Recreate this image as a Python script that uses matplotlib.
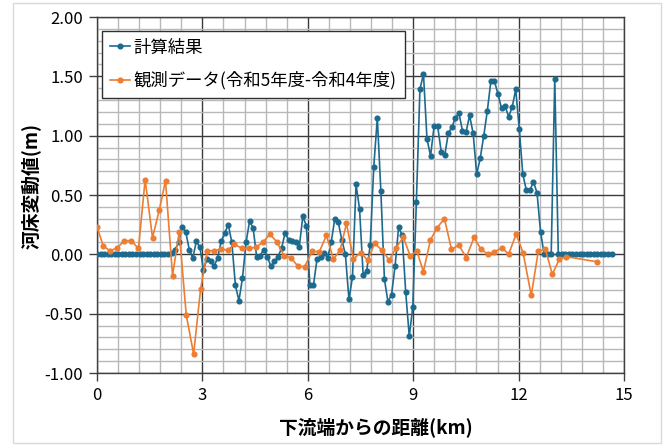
import numpy as np
import matplotlib
matplotlib.use("Agg")
import matplotlib.pyplot as plt
from matplotlib.ticker import MultipleLocator, FormatStrFormatter, FixedLocator
from matplotlib.patches import Rectangle

plt.rcParams['font.family'] = ['Noto Sans CJK JP', 'DejaVu Sans']

# ---- data ----
calc_label = "計算結果"
obs_label = "観測データ(令和5年度-令和4年度)"
x_label = "下流端からの距離(km)"
y_label = "河床変動値(m)"

# calculated bed change, one value per cross section (~0.1 km apart)
calc_change = [
    0.00, 0.00, 0.00, 0.00, 0.00, 0.00, 0.00, 0.00, 0.00, 0.00,
    0.00, 0.00, 0.00, 0.00, 0.00, 0.00, 0.00, 0.00, 0.00, 0.00,
    0.00, 0.01, 0.04, 0.10, 0.23, 0.19, 0.04, -0.03, 0.11, 0.06,
    -0.13, -0.04, -0.06, -0.10, -0.03, 0.11, 0.18, 0.25, 0.10, -0.26,
    -0.39, -0.20, 0.10, 0.28, 0.22, -0.02, -0.01, 0.04, -0.02, -0.10,
    -0.06, -0.02, 0.05, 0.18, 0.12, 0.11, 0.10, 0.06, 0.32, 0.24,
    -0.26, -0.26, -0.04, -0.02, 0.01, -0.03, 0.10, 0.30, 0.27, 0.12,
    0.00, -0.38, -0.19, 0.59, 0.38, -0.17, -0.14, 0.08, 0.74, 1.15,
    0.53, -0.21, -0.40, -0.34, -0.10, 0.23, 0.16, -0.32, -0.69, -0.44,
    0.44, 1.39, 1.52, 0.97, 0.83, 1.08, 1.08, 0.865, 0.835, 1.02,
    1.07, 1.15, 1.19, 1.04, 1.03, 1.17, 1.02, 0.675, 0.81, 1.00,
    1.21, 1.46, 1.46, 1.35, 1.23, 1.25, 1.16, 1.24, 1.39, 1.055,
    0.675, 0.54, 0.54, 0.61, 0.52, 0.19, 0.00, 0.00, 0.00, 1.48,
    0.00, 0.00, 0.00, 0.00, 0.00, 0.00, 0.00, 0.00, 0.00, 0.00,
    0.00, 0.00, 0.00, 0.00, 0.00, 0.00,
]
calc_step_km = 0.101
calc_dist = np.arange(len(calc_change)) * calc_step_km

obs_dist = [
    0.00, 0.18, 0.37, 0.58, 0.78, 0.97, 1.18, 1.37, 1.58, 1.77,
    1.95, 2.15, 2.34, 2.54, 2.75, 2.95, 3.14, 3.34, 3.53, 3.72,
    3.91, 4.13, 4.32, 4.52, 4.72, 4.92, 5.12, 5.32, 5.52, 5.72,
    5.91, 6.12, 6.33, 6.53, 6.73, 6.92, 7.10, 7.30, 7.50, 7.71,
    7.90, 8.11, 8.32, 8.51, 8.72, 8.92, 9.10, 9.29, 9.49, 9.68,
    9.89, 10.09, 10.30, 10.51, 10.73, 10.93, 11.12, 11.31, 11.52, 11.72,
    11.93, 12.13, 12.36, 12.56, 12.76, 12.96, 13.16, 13.36, 14.22,
]
obs_change = [
    0.23, 0.07, 0.03, 0.055, 0.115, 0.115, 0.05, 0.63, 0.14, 0.37,
    0.62, -0.18, 0.19, -0.51, -0.84, -0.29, 0.03, 0.03, 0.045, 0.035,
    0.085, 0.05, 0.05, 0.06, 0.10, 0.17, 0.105, -0.01, -0.03, -0.10,
    -0.105, 0.025, 0.022, 0.16, -0.04, 0.035, 0.26, -0.04, 0.015, -0.05,
    0.093, 0.035, -0.05, 0.056, 0.143, -0.017, 0.031, -0.146, 0.12, 0.225,
    0.30, 0.042, 0.078, -0.028, 0.142, 0.042, 0.003, 0.022, 0.053, 0.003,
    0.171, 0.01, -0.346, 0.025, 0.045, -0.169, -0.04, -0.02, -0.062,
]

x_ticks = [0, 3, 6, 9, 12, 15]
y_ticks = [-1.0, -0.5, 0.0, 0.5, 1.0, 1.5, 2.0]

# ---- figure ----
fig = plt.figure(figsize=(6.65, 4.46), dpi=100)
fig.patch.set_facecolor('white')
fig.add_artist(Rectangle((13 / 665, 3 / 446), 648 / 665, 440 / 446,
                         transform=fig.transFigure, fill=False,
                         edgecolor='#d9d9d9', linewidth=1.0))

ax = fig.add_axes([97 / 665, 1 - 373 / 446, 527 / 665, 356 / 446])

blue = '#1D6A8F'
orange = '#ED7D31'

ax.plot(calc_dist, calc_change, color=blue, linewidth=1.2, marker='o',
        markersize=3.4, label=calc_label, zorder=3)
ax.plot(obs_dist, obs_change, color=orange, linewidth=1.2, marker='o',
        markersize=3.4, label=obs_label, zorder=4)

ax.set_xlim(0, 15)
ax.set_ylim(-1.0, 2.0)
ax.set_xticks(x_ticks)
ax.set_yticks(y_ticks)
x_minor = [m * 0.6 for m in range(26) if m % 5 != 0]
y_minor = [-1.0 + m * 0.1 for m in range(31) if m % 5 != 0]
ax.xaxis.set_minor_locator(FixedLocator(x_minor))
ax.yaxis.set_minor_locator(FixedLocator(y_minor))
ax.yaxis.set_major_formatter(FormatStrFormatter('%.2f'))

ax.grid(which='minor', color='#b8b8b8', linewidth=1.0, zorder=0)
ax.grid(which='major', color='#3a3a3a', linewidth=1.0, zorder=1)
ax.set_axisbelow(True)

for s in ax.spines.values():
    s.set_color('#404040')
    s.set_linewidth(1.0)

ax.tick_params(which='major', direction='out', length=6, width=1.0,
               color='#404040', labelsize=12, labelcolor='black', pad=4)
ax.tick_params(which='minor', length=0)

ax.set_xlabel(x_label, fontsize=13.5, fontweight='bold')
ax.set_ylabel(y_label, fontsize=13.5, fontweight='bold')
ax.xaxis.set_label_coords(0.53, -0.125)
ax.yaxis.set_label_coords(-0.105, 0.525)

leg = ax.legend(loc='upper left', bbox_to_anchor=(0.009, 0.9615),
                borderaxespad=0, fontsize=12.5, frameon=True, fancybox=False,
                edgecolor='#303030', framealpha=1.0, handlelength=1.2,
                handletextpad=0.2, labelspacing=0.85, borderpad=0.45)
leg.get_frame().set_linewidth(1.0)

fig.savefig('out.png', dpi=100, facecolor='white')
